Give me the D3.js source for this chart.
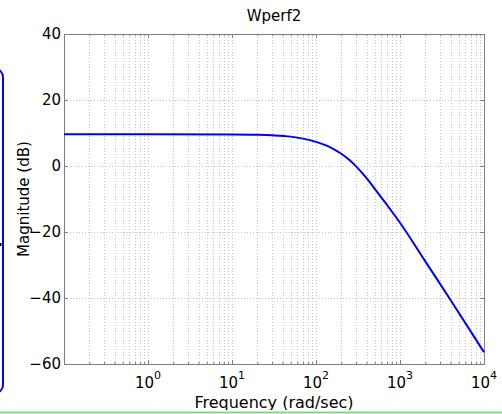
<!DOCTYPE html>
<html>
<head>
<meta charset="utf-8">
<script src="https://cdn.jsdelivr.net/npm/d3@7"></script>
<style>
  html, body { margin: 0; padding: 0; background: #fff; }
  svg { display: block; }
  text { font-family: "DejaVu Sans", sans-serif; fill: #000; }
</style>
</head>
<body>
<svg id="chart" width="502" height="414"></svg>
<script>
// values
const freq = [0.1, 1, 10, 20, 30, 50, 70, 100, 150, 200, 250, 300, 400, 500, 700, 1000, 2000, 4000, 10000];
const magDb = [9.6, 9.6, 9.55, 9.45, 9.3, 8.9, 8.3, 7.3, 5.6, 3.7, 1.8, -0.1, -3.7, -6.9, -11.8, -17.2, -28.9, -40.6, -56.4];
const yTicks = [-60, -40, -20, 0, 20, 40];
const xDecades = [-1, 0, 1, 2, 3, 4];
const xLabelExps = [0, 1, 2, 3, 4];
const title = "Wperf2";
const xTitle = "Frequency (rad/sec)";
const yTitle = "Magnitude (dB)";

let svg = d3.select("#chart");

const plot = {left: 64, right: 484, top: 34, bottom: 364},
      axisColor = "#7f7f7f",
      gridColor = "#c4c4c4";

let x = d3.scaleLog().domain([0.1, 1e4]).range([plot.left, plot.right]),
    y = d3.scaleLinear().domain([-60, 40]).range([plot.bottom, plot.top]);

// minor + major tick positions for the log axis
let majorX = xDecades.map((e) => Math.pow(10, e));
let minorX = [];
xDecades.slice(0, -1).forEach((e) => {
  for (let k = 2; k <= 9; k++) minorX.push(k * Math.pow(10, e));
});

// grid
let grid = svg.append("g").attr("class", "grid");
grid.selectAll("line.gx")
    .data(majorX.concat(minorX).filter((v) => v > 0.1 && v < 1e4))
    .enter().append("line")
    .attr("x1", (d) => Math.round(x(d)) + 0.5)
    .attr("x2", (d) => Math.round(x(d)) + 0.5)
    .attr("y1", plot.top)
    .attr("y2", plot.bottom)
    .attr("stroke", gridColor)
    .attr("stroke-width", 1)
    .attr("stroke-dasharray", "1,2");
grid.selectAll("line.gy")
    .data(yTicks.filter((v) => v > -60 && v < 40))
    .enter().append("line")
    .attr("x1", plot.left)
    .attr("x2", plot.right)
    .attr("y1", (d) => Math.round(y(d)) + 0.5)
    .attr("y2", (d) => Math.round(y(d)) + 0.5)
    .attr("stroke", gridColor)
    .attr("stroke-width", 1)
    .attr("stroke-dasharray", "1,2");

// axes (ticks pointing inwards, on all four sides)
let axisLeft = svg.append("g")
    .attr("transform", "translate(" + plot.left + ",0)")
    .call(d3.axisLeft(y).tickValues(yTicks).tickSize(-4).tickPadding(3).tickFormat(d3.format("d")));
let axisRight = svg.append("g")
    .attr("transform", "translate(" + plot.right + ",0)")
    .call(d3.axisRight(y).tickValues(yTicks).tickSize(-4).tickFormat(""));
let axisBottom = svg.append("g")
    .attr("transform", "translate(0," + plot.bottom + ")")
    .call(d3.axisBottom(x).tickValues(majorX.concat(minorX)).tickSize(-4).tickFormat(""));
let axisTop = svg.append("g")
    .attr("transform", "translate(0," + plot.top + ")")
    .call(d3.axisTop(x).tickValues(majorX.concat(minorX)).tickSize(-4).tickFormat(""));

[axisBottom, axisTop].forEach((g) => {
  g.selectAll(".tick line")
    .attr("y2", (d) => (majorX.indexOf(d) >= 0 ? 1 : 0.5) * (g === axisBottom ? -4 : 4));
});
[axisLeft, axisRight, axisBottom, axisTop].forEach((g) => {
  g.select(".domain").remove();
  g.selectAll(".tick line").attr("stroke", axisColor);
});
axisLeft.selectAll(".tick text")
    .attr("font-size", 15)
    .attr("font-family", "DejaVu Sans, sans-serif")
    .attr("fill", "#000")
    .text((d) => (d < 0 ? "\u2212" + Math.abs(d) : d));

svg.append("rect")
    .attr("x", plot.left + 0.5)
    .attr("y", plot.top + 0.5)
    .attr("width", plot.right - plot.left)
    .attr("height", plot.bottom - plot.top)
    .attr("fill", "none")
    .attr("stroke", axisColor)
    .attr("stroke-width", 1);

// x tick labels with superscript exponents
let xLab = svg.append("g").selectAll("text")
    .data(xLabelExps)
    .enter().append("text")
    .attr("x", (d) => x(Math.pow(10, d)))
    .attr("y", plot.bottom + 24)
    .attr("text-anchor", "middle")
    .attr("font-size", 15);
xLab.append("tspan").text("10");
xLab.append("tspan")
    .attr("dy", -9)
    .attr("font-size", 11)
    .text((d) => d);

// curve
let line = d3.line()
    .x((d, i) => x(freq[i]))
    .y((d) => y(d))
    .curve(d3.curveMonotoneX);
svg.append("path")
    .datum(magDb)
    .attr("d", line)
    .attr("fill", "none")
    .attr("stroke", "#0000ff")
    .attr("stroke-width", 2);

// titles
svg.append("text")
    .attr("x", (plot.left + plot.right) / 2)
    .attr("y", 21)
    .attr("text-anchor", "middle")
    .attr("font-size", 15)
    .text(title);
svg.append("text")
    .attr("x", (plot.left + plot.right) / 2)
    .attr("y", 408)
    .attr("text-anchor", "middle")
    .attr("font-size", 16)
    .text(xTitle);
svg.append("text")
    .attr("transform", "translate(29,199) rotate(-90)")
    .attr("text-anchor", "middle")
    .attr("font-size", 15)
    .text(yTitle);

// page chrome around the figure
svg.append("rect")
    .attr("x", 0).attr("y", 410).attr("width", 502).attr("height", 4)
    .attr("fill", "#fff");
svg.append("line")
    .attr("x1", 0).attr("x2", 502)
    .attr("y1", 412.5).attr("y2", 412.5)
    .attr("stroke", "#86d686")
    .attr("stroke-width", 2);
svg.append("rect")
    .attr("x", -20).attr("y", 69)
    .attr("width", 23).attr("height", 324)
    .attr("rx", 8)
    .attr("fill", "none")
    .attr("stroke", "#0000ff")
    .attr("stroke-width", 2);
svg.append("rect")
    .attr("x", 0).attr("y", 243).attr("width", 1.5).attr("height", 3)
    .attr("fill", "#000");
</script>
</body>
</html>
